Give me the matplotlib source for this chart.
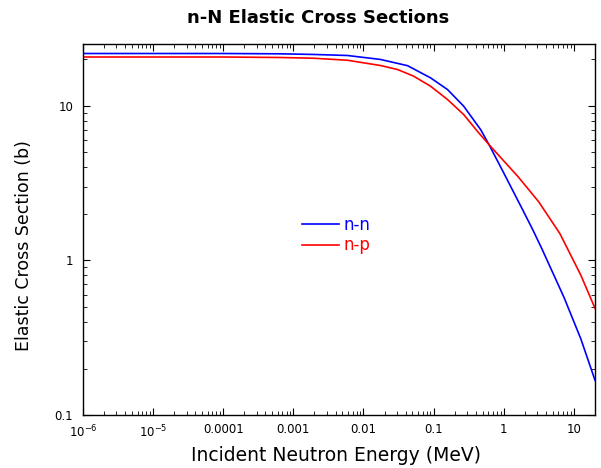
import matplotlib
matplotlib.use("Agg")
import matplotlib.pyplot as plt
from matplotlib.ticker import FixedLocator, LogLocator, NullFormatter

# energies in MeV, cross sections in barns
energy_nn = [1e-6, 1e-5, 1e-4, 6.52e-4, 1.93e-3, 5.90e-3, 0.0175, 0.0426, 0.0906, 0.158,
             0.269, 0.469, 0.617, 1.0, 1.75, 2.57, 3.49, 7.26, 12.6, 20.0]
sigma_nn = [21.7, 21.7, 21.7, 21.6, 21.4, 21.07, 19.86, 18.1, 15.1, 12.69,
            9.9, 6.99, 5.59, 3.67, 2.24, 1.59, 1.19, 0.574, 0.31, 0.168]

energy_np = [1e-6, 1e-5, 1e-4, 6.52e-4, 1.93e-3, 5.90e-3, 0.0175, 0.0306, 0.0518, 0.0906,
             0.158, 0.269, 0.426, 0.617, 1.0, 1.585, 3.16, 6.31, 12.6, 20.0]
sigma_np = [20.6, 20.6, 20.6, 20.45, 20.23, 19.63, 18.15, 17.1, 15.5, 13.33,
            10.94, 8.74, 6.78, 5.59, 4.39, 3.49, 2.385, 1.49, 0.80, 0.49]

xtick_vals = [1e-6, 1e-5, 1e-4, 1e-3, 1e-2, 0.1, 1, 10]
xtick_labels = ['$10^{-6}$', '$10^{-5}$', '0.0001', '0.001', '0.01', '0.1', '1', '10']
ytick_vals = [0.1, 1, 10]
ytick_labels = ['0.1', '1', '10']

plt.rcParams['font.family'] = ['DejaVu Sans']
plt.rcParams['mathtext.default'] = 'regular'

fig = plt.figure(figsize=(6.01, 4.68), dpi=100)
ax = fig.add_axes([0.138, 0.113, 0.852, 0.793])

ax.loglog(energy_nn, sigma_nn, color='#0000ff', lw=1.2, label='n-n')
ax.loglog(energy_np, sigma_np, color='#ff0000', lw=1.2, label='n-p')

ax.set_xlim(1e-6, 20)
ax.set_ylim(0.1, 25)

ax.xaxis.set_major_locator(FixedLocator(xtick_vals))
ax.set_xticklabels(xtick_labels)
ax.yaxis.set_major_locator(FixedLocator(ytick_vals))
ax.set_yticklabels(ytick_labels)
ax.xaxis.set_minor_locator(LogLocator(base=10, subs=range(2, 10), numticks=20))
ax.yaxis.set_minor_locator(LogLocator(base=10, subs=range(2, 10), numticks=20))
ax.xaxis.set_minor_formatter(NullFormatter())
ax.yaxis.set_minor_formatter(NullFormatter())

ax.tick_params(which='both', direction='in', top=True, right=True, labelsize=8.5)
ax.tick_params(which='major', length=5, width=0.8)
ax.tick_params(which='minor', length=3, width=0.6)
ax.tick_params(axis='x', which='major', pad=6)
ax.tick_params(axis='y', which='major', pad=7)
for s in ax.spines.values():
    s.set_linewidth(1.0)

ax.set_xlabel('Incident Neutron Energy (MeV)', fontsize=13.5)
ax.xaxis.set_label_coords(0.494, -0.083)
ax.set_ylabel('Elastic Cross Section (b)', fontsize=12.5)
ax.yaxis.set_label_coords(-0.098, 0.458)
fig.text(0.529, 0.962, 'n-N Elastic Cross Sections', fontsize=13, fontweight='bold',
         ha='center', va='center')

leg = ax.legend(loc='center left', bbox_to_anchor=(0.428, 0.485), frameon=False,
                fontsize=12, handlelength=2.2, handletextpad=0.3, labelspacing=0.15,
                borderpad=0, borderaxespad=0)
for text, line in zip(leg.get_texts(), leg.get_lines()):
    text.set_color(line.get_color())

fig.savefig('out.png', dpi=100)
